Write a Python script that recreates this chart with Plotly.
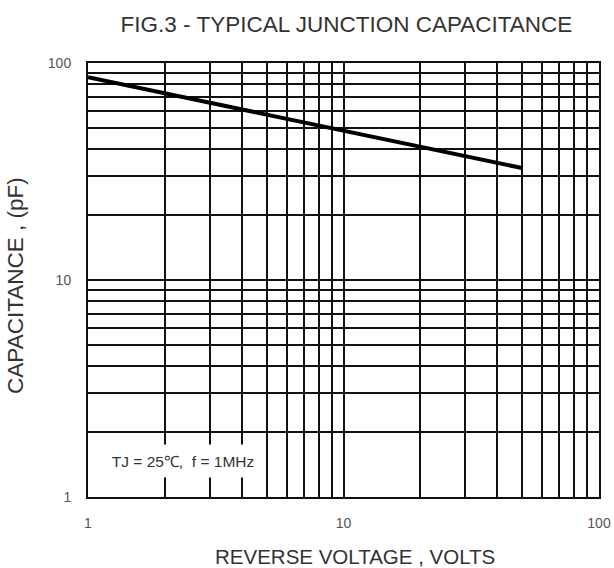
import plotly.graph_objects as go

# Data
voltage = [1, 2, 3, 5, 10, 20, 30, 40, 50]
capacitance = [86, 72.5, 65.5, 57.5, 49, 41, 37, 34.6, 32.8]

x_tickvals = [1, 2, 3, 4, 5, 6, 7, 8, 9, 10, 20, 30, 40, 50, 60, 70, 80, 90, 100]
x_ticktext = ["1", "", "", "", "", "", "", "", "", "10", "", "", "", "", "", "", "", "", "100"]
y_tickvals = x_tickvals
y_ticktext = x_ticktext

title_text = "FIG.3 - TYPICAL JUNCTION CAPACITANCE"
x_title = "REVERSE VOLTAGE , VOLTS"
y_title = "CAPACITANCE , (pF)"
note_text = "TJ = 25\u2103,  f = 1MHz"

font_family = "Liberation Sans, Arial, sans-serif"

fig = go.Figure()
fig.add_trace(go.Scatter(
    x=voltage, y=capacitance, mode="lines",
    line=dict(color="black", width=4), showlegend=False, hoverinfo="skip",
))

axis_common = dict(
    type="log",
    showgrid=True, gridcolor="#111111", gridwidth=1.5,
    showline=True, linecolor="#111111", linewidth=2, mirror=True,
    ticks="", zeroline=False, automargin=False,
    tickfont=dict(family=font_family, size=14, color="#555555"),
    ticklabelstandoff=12,
)

fig.update_xaxes(range=[0, 2], tickvals=x_tickvals, ticktext=x_ticktext, **axis_common)
fig.update_yaxes(range=[0, 2], tickvals=y_tickvals, ticktext=y_ticktext, **axis_common)

# axis titles
fig.add_annotation(
    x=0.5225, y=-0.136, xref="paper", yref="paper", text=x_title, showarrow=False,
    font=dict(family=font_family, size=20.5, color="#333333"),
    xanchor="center", yanchor="middle",
)
fig.add_annotation(
    x=-0.141, y=0.4885, xref="paper", yref="paper", text=y_title, showarrow=False,
    font=dict(family=font_family, size=22.5, color="#333333"),
    textangle=-90, xanchor="center", yanchor="middle",
)

# condition note (white box interrupting the grid)
fig.add_annotation(
    x=0.372, y=0.166, xref="x", yref="y", text=note_text, showarrow=False,
    font=dict(family=font_family, size=15.5, color="#333333"),
    bgcolor="white", width=156, height=30, xanchor="center", yanchor="middle",
)

fig.update_layout(
    width=614, height=568,
    margin=dict(l=88, r=15, t=63, b=71, autoexpand=False),
    paper_bgcolor="white", plot_bgcolor="white",
    title=dict(text=title_text, x=0.5643, xanchor="center", y=0.9577, yanchor="middle",
               font=dict(family=font_family, size=22.5, color="#333333")),
)

fig.write_html(
    "out.html",
    config={"displayModeBar": False},
    post_script="document.body.style.margin='0';document.body.style.overflow='hidden';",
)
